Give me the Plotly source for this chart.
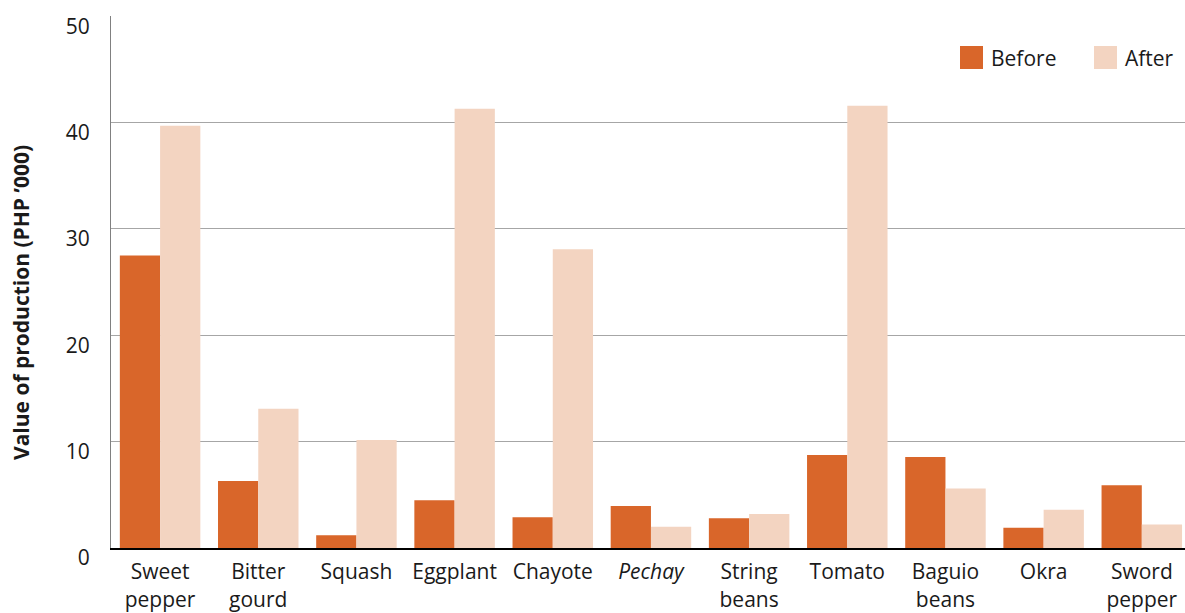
import plotly.graph_objects as go

categories = ["Sweet<br>pepper", "Bitter<br>gourd", "Squash", "Eggplant", "Chayote",
              "<i>Pechay</i>", "String<br>beans", "Tomato", "Baguio<br>beans", "Okra", "Sword<br>pepper"]
before = [27.5, 6.3, 1.2, 4.5, 2.9, 3.95, 2.8, 8.75, 8.55, 1.9, 5.9]
after = [39.7, 13.1, 10.15, 41.3, 28.1, 2.0, 3.2, 41.6, 5.6, 3.6, 2.2]
series_names = ["Before", "After"]
colors = ["#D9662A", "#F3D4C1"]
y_ticks = [0, 10, 20, 30, 40, 50]

FONT = "Open Sans"
TXT = "#1a1a1a"
FS = 21

fig = go.Figure()
for name, vals, c in zip(series_names, [before, after], colors):
    fig.add_trace(go.Bar(x=categories, y=vals, name=name, marker_color=c,
                         marker_line_width=0, showlegend=False))

fig.update_layout(
    width=1185, height=613,
    margin=dict(l=111, r=0, t=16, b=65),
    paper_bgcolor="white", plot_bgcolor="white",
    barmode="group", bargap=0.18, bargroupgap=0.0,
    font=dict(family=FONT, size=FS, color=TXT),
    showlegend=False,
)
fig.update_xaxes(range=[-0.5, 10.44], showline=True, linecolor="#000", linewidth=2, ticks="",
                 ticklabelstandoff=4,
                 tickfont=dict(size=FS, family=FONT, color=TXT), showgrid=False)
fig.update_yaxes(range=[0, 50.03], tickvals=y_ticks, showgrid=True, gridcolor="#a6a6a6",
                 gridwidth=1, showline=True, linecolor="#808080", linewidth=1,
                 ticks="", zeroline=False, ticklabelshift=10, ticklabelstandoff=16,
                 tickfont=dict(size=FS, family=FONT, color=TXT))

pl, pt, pw, ph = 111, 16, 1185 - 111, 613 - 16 - 65

# y-axis title
fig.add_annotation(xref="paper", yref="paper", x=(21 - pl) / pw, y=1 - (303 - pt) / ph,
                   text="<b>Value of production (PHP ’000)</b>", textangle=-90,
                   showarrow=False, xanchor="center", yanchor="middle",
                   font=dict(size=FS, family=FONT, color=TXT))

# custom legend (paper coords)
leg = [(960, "Before", colors[0]), (1094, "After", colors[1])]
for x0, label, c in leg:
    fig.add_shape(type="rect", xref="paper", yref="paper",
                  x0=(x0 - pl) / pw, x1=(x0 + 23 - pl) / pw,
                  y0=1 - (46 + 23 - pt) / ph, y1=1 - (46 - pt) / ph,
                  fillcolor=c, line_width=0)
    fig.add_annotation(xref="paper", yref="paper", x=(x0 + 29 - pl) / pw,
                       y=1 - (57.5 - pt) / ph, text=label, showarrow=False,
                       xanchor="left", yanchor="middle",
                       font=dict(size=FS, family=FONT, color=TXT))

fig.write_html("out.html")
